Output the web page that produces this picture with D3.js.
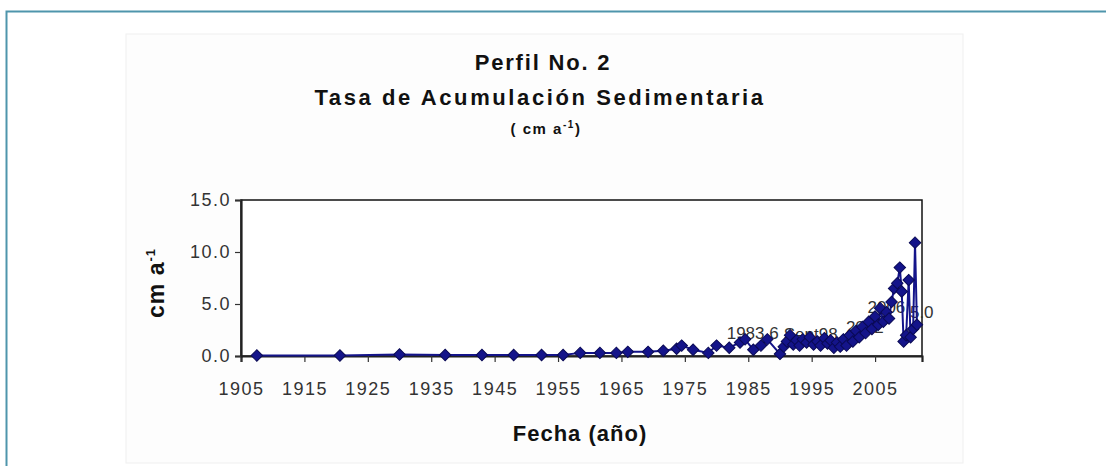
<!DOCTYPE html>
<html>
<head>
<meta charset="utf-8">
<script src="https://cdn.jsdelivr.net/npm/d3@7"></script>
<style>
  html, body { margin: 0; padding: 0; background: #fff; }
  svg { display: block; font-family: "Liberation Sans", Arial, sans-serif; }
</style>
</head>
<body>
<div id="chart"></div>
<script>
// sample years (x) and accumulation rate in cm/a (y)
const years = [
  1907.5, 1920.6, 1930.0, 1937.2, 1943.0, 1948.0, 1952.4, 1955.8, 1958.5, 1961.6,
  1964.2, 1966.0, 1969.2, 1971.6, 1973.7, 1974.5, 1976.3, 1978.7, 1980.0, 1982.0,
  1983.7, 1984.5, 1985.8, 1987.0, 1988.0, 1990.0, 1990.6, 1991.1, 1991.6, 1992.1,
  1992.6, 1993.1, 1993.6, 1994.2, 1994.7, 1995.3, 1995.9, 1996.4, 1997.0, 1997.5,
  1998.0, 1998.5, 1999.0, 1999.5, 2000.0, 2000.5, 2001.0, 2001.5, 2002.0, 2002.5,
  2003.0, 2003.5, 2004.0, 2004.5, 2005.0, 2005.5, 2005.8, 2006.3, 2006.8, 2007.2,
  2007.6, 2008.0, 2008.5, 2008.9, 2009.2, 2009.5, 2009.9, 2010.3, 2010.6, 2011.0,
  2011.3, 2011.6
];
const rates = [
  0.05, 0.05, 0.15, 0.10, 0.10, 0.10, 0.10, 0.10, 0.30, 0.30,
  0.30, 0.40, 0.40, 0.50, 0.70, 1.00, 0.60, 0.30, 1.00, 0.80,
  1.30, 1.60, 0.60, 1.00, 1.60, 0.20, 0.90, 1.40, 2.00, 1.10,
  1.50, 1.00, 1.60, 1.30, 1.80, 1.10, 1.40, 1.00, 1.70, 1.20,
  1.50, 0.80, 1.30, 0.90, 1.60, 1.00, 2.00, 1.40, 2.40, 1.80,
  2.80, 2.20, 3.30, 2.60, 3.80, 3.00, 4.60, 3.30, 4.20, 3.60,
  5.20, 6.50, 7.00, 8.50, 6.20, 1.40, 2.00, 7.30, 1.80, 2.60,
  10.90, 3.00
];

// overlapping data labels as they appear in the picture
const labelTexts = ['1983.6', 'Sept98', '2002', '2006', '5.0'];
const labelYears = [1981.6, 1990.6, 2000.4, 2003.8, 2010.5];
const labelRates = [1.6, 1.5, 2.2, 4.15, 3.65];

const xTicks = [1905, 1915, 1925, 1935, 1945, 1955, 1965, 1975, 1985, 1995, 2005];
const yTicks = [0, 5, 10, 15];

const titleLines = ['Perfil No. 2', 'Tasa de Acumulación Sedimentaria'];

const W = 1106, H = 466;
const plot = { left: 241, right: 922, top: 200, bottom: 356 };
const navy = '#14148a';

const svg = d3.select('#chart').append('svg')
  .attr('width', W)
  .attr('height', H);

// page frame (blue rule at top and left)
svg.append('path')
  .attr('d', 'M6.5,' + H + 'V11.5H' + W)
  .attr('fill', 'none')
  .attr('stroke', '#4f95ac')
  .attr('stroke-width', 2);

// chart picture area
svg.append('rect')
  .attr('x', 126).attr('y', 34)
  .attr('width', 837).attr('height', 429)
  .attr('fill', '#fdfdfd')
  .attr('stroke', '#efefef');

// titles
svg.append('text')
  .attr('x', 543).attr('y', 70)
  .attr('text-anchor', 'middle')
  .attr('font-size', 22).attr('font-weight', 'bold')
  .attr('letter-spacing', 1.8)
  .attr('fill', '#111')
  .text(titleLines[0]);

svg.append('text')
  .attr('x', 540).attr('y', 105)
  .attr('text-anchor', 'middle')
  .attr('font-size', 22).attr('font-weight', 'bold')
  .attr('letter-spacing', 2.6)
  .attr('fill', '#111')
  .text(titleLines[1]);

const sub = svg.append('text')
  .attr('x', 546).attr('y', 134)
  .attr('text-anchor', 'middle')
  .attr('font-size', 15).attr('font-weight', 'bold')
  .attr('letter-spacing', 1.5)
  .attr('fill', '#111');
sub.append('tspan').text('( cm a');
sub.append('tspan').attr('dy', -6).attr('font-size', 10).text('-1');
sub.append('tspan').attr('dy', 6).text(')');

// scales
const x = d3.scaleLinear().domain([1905, 2012.4]).range([plot.left, plot.right]);
const y = d3.scaleLinear().domain([0, 15]).range([plot.bottom, plot.top]);

// plot box
svg.append('rect')
  .attr('x', plot.left).attr('y', plot.top)
  .attr('width', plot.right - plot.left)
  .attr('height', plot.bottom - plot.top)
  .attr('fill', '#fff')
  .attr('stroke', '#111')
  .attr('stroke-width', 1.5);

// axes
const xAxis = svg.append('g')
  .attr('transform', 'translate(0,' + plot.bottom + ')')
  .call(d3.axisBottom(x).tickValues(xTicks).tickFormat(d3.format('d')).tickSize(6).tickPadding(20));

const yAxis = svg.append('g')
  .attr('transform', 'translate(' + plot.left + ',0)')
  .call(d3.axisLeft(y).tickValues(yTicks).tickFormat(d3.format('.1f')).tickSize(6).tickPadding(4));

[xAxis, yAxis].forEach(function (g) {
  g.select('.domain').attr('stroke', '#222').attr('stroke-width', 2.2);
  g.selectAll('.tick line').attr('stroke', '#333').attr('stroke-width', 1.2);
  g.selectAll('.tick text')
    .attr('font-family', '"Liberation Sans", Arial, sans-serif')
    .attr('font-size', 18)
    .attr('letter-spacing', 1.5)
    .attr('fill', '#333');
});

// axis titles
svg.append('text')
  .attr('x', 580).attr('y', 441)
  .attr('text-anchor', 'middle')
  .attr('font-size', 22).attr('font-weight', 'bold')
  .attr('letter-spacing', 1)
  .attr('fill', '#111')
  .text('Fecha (año)');

const yl = svg.append('text')
  .attr('transform', 'translate(164,283) rotate(-90)')
  .attr('text-anchor', 'middle')
  .attr('font-size', 23).attr('font-weight', 'bold')
  .attr('letter-spacing', 1)
  .attr('fill', '#111');
yl.append('tspan').text('cm a');
yl.append('tspan').attr('dy', -9).attr('font-size', 13).text('-1');

// data labels (drawn under the series, as in the picture)
svg.append('g').selectAll('text')
  .data(labelTexts)
  .enter().append('text')
  .attr('x', function (d, i) { return x(labelYears[i]); })
  .attr('y', function (d, i) { return y(labelRates[i]); })
  .attr('font-size', 17)
  .attr('fill', '#333')
  .text(function (d) { return d; });

// data series
const points = years.map(function (d, i) { return { year: d, rate: rates[i] }; });

const line = d3.line()
  .x(function (d) { return x(d.year); })
  .y(function (d) { return y(d.rate); });

svg.append('path')
  .datum(points)
  .attr('d', line)
  .attr('fill', 'none')
  .attr('stroke', navy)
  .attr('stroke-width', 2);

svg.append('g').selectAll('path')
  .data(points)
  .enter().append('path')
  .attr('d', d3.symbol(d3.symbolSquare, 66))
  .attr('transform', function (d) {
    return 'translate(' + x(d.year) + ',' + y(d.rate) + ') rotate(45)';
  })
  .attr('fill', navy)
  .attr('stroke', '#0a0a55')
  .attr('stroke-width', 1);
</script>
</body>
</html>
